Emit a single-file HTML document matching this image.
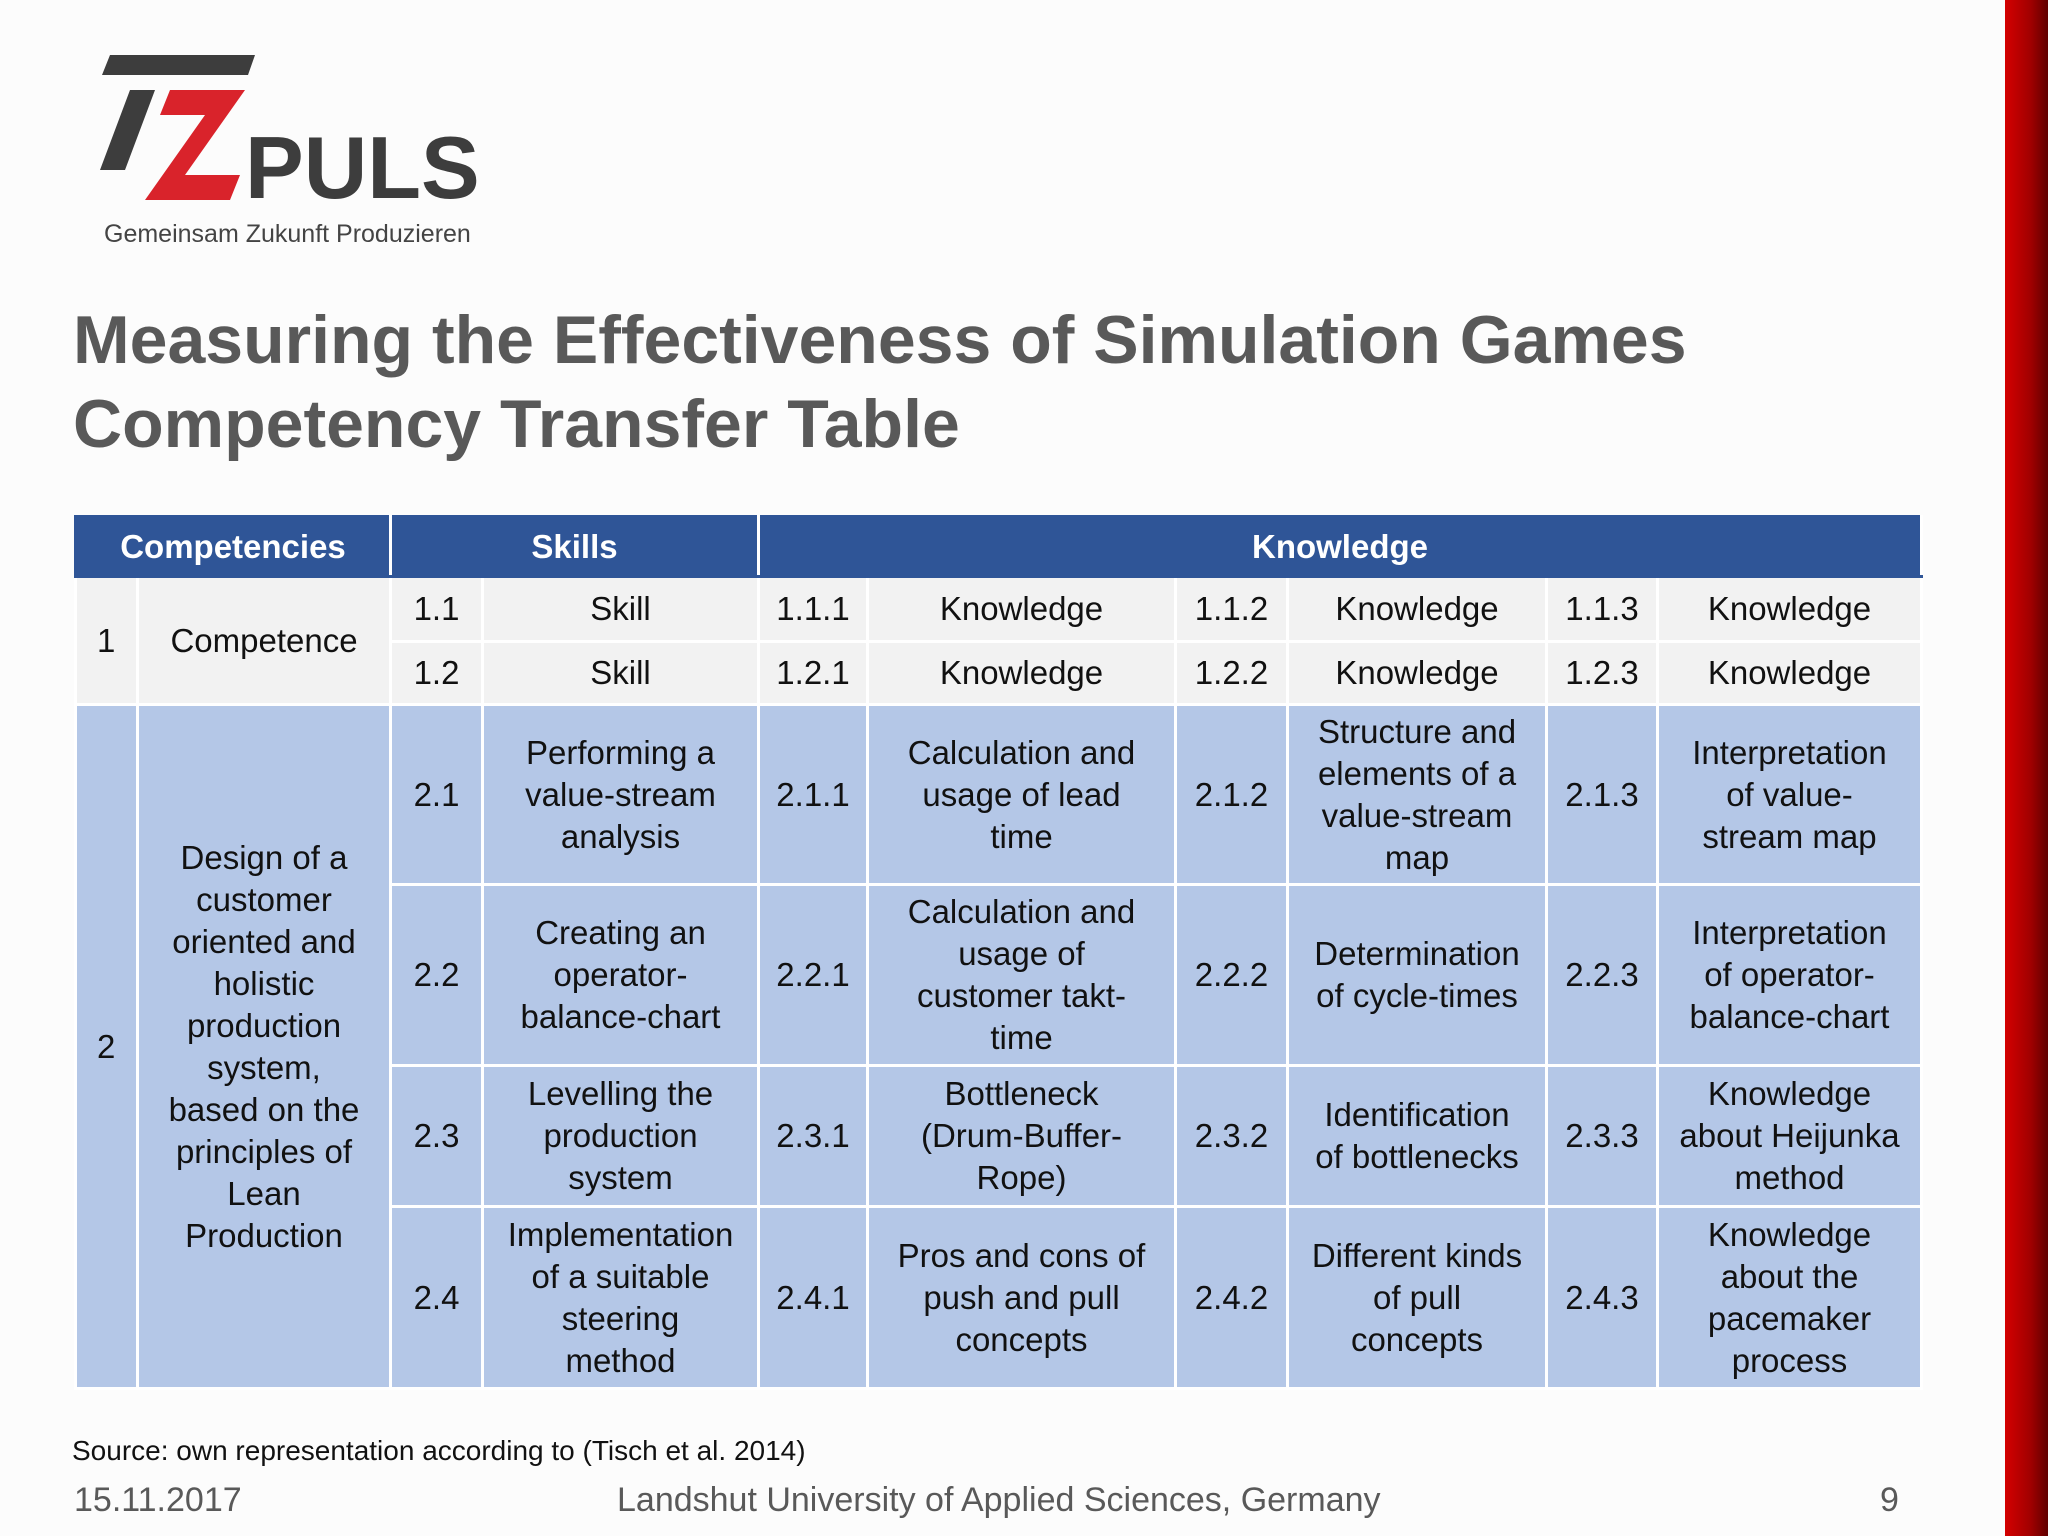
<!DOCTYPE html>
<html><head><meta charset="utf-8">
<style>
body{margin:0;width:2048px;height:1536px;background:#fcfcfc;position:relative;overflow:hidden;font-family:"Liberation Sans",Arial,sans-serif;}
.abs{position:absolute;white-space:nowrap;}
table{position:absolute;left:74px;top:515px;border-collapse:collapse;table-layout:fixed;}
td{border:3px solid #fff;text-align:center;vertical-align:middle;font-size:33px;color:#111;line-height:42px;padding:0 2px;white-space:nowrap;}
tr.h td{background:#2f5597;color:#fff;font-weight:bold;font-size:33px;border-color:#2f5597;border-right-color:#fff;}
tr.g td{background:#f2f2f2;}
tr.b td{background:#b4c7e7;}
</style></head><body>
<div class="abs" style="left:2005px;top:0;width:43px;height:1536px;background:linear-gradient(90deg,#d40000,#a00000 60%,#600000);"></div>
<svg class="abs" style="left:100px;top:55px" width="390" height="200">
<polygon points="10,0 155,0 148,20 2,20" fill="#3d3d3d"/>
<polygon points="30,35 55,35 25,115 0,115" fill="#3d3d3d"/>
<polygon points="70,35 145,35 85,120 140,120 130,145 45,145 105,60 60,60" fill="#d9232b"/>
<text x="145" y="143" font-family="Liberation Sans" font-weight="bold" font-size="88" fill="#3d3d3d">PULS</text>
<text x="4" y="187" font-family="Liberation Sans" font-size="25" fill="#444">Gemeinsam Zukunft Produzieren</text>
</svg>
<div class="abs" style="left:73px;top:298px;font-size:68px;font-weight:bold;color:#595959;line-height:84px;">Measuring the Effectiveness of Simulation Games<br>Competency Transfer Table</div>
<table>
<colgroup><col style="width:62px"><col style="width:253px"><col style="width:92px"><col style="width:276px"><col style="width:109px"><col style="width:308px"><col style="width:112px"><col style="width:259px"><col style="width:111px"><col style="width:264px"></colgroup>
<tr class="h" style="height:60px"><td colspan="2">Competencies</td><td colspan="2">Skills</td><td colspan="6">Knowledge</td></tr>
<tr class="g" style="height:65px"><td rowspan="2" style="text-align:left;padding-left:20px">1</td><td rowspan="2">Competence</td><td>1.1</td><td>Skill</td><td>1.1.1</td><td>Knowledge</td><td>1.1.2</td><td>Knowledge</td><td>1.1.3</td><td>Knowledge</td></tr>
<tr class="g" style="height:63px"><td>1.2</td><td>Skill</td><td>1.2.1</td><td>Knowledge</td><td>1.2.2</td><td>Knowledge</td><td>1.2.3</td><td>Knowledge</td></tr>
<tr class="b" style="height:180px"><td rowspan="4" style="text-align:left;padding-left:20px">2</td><td rowspan="4">Design of a<br>customer<br>oriented and<br>holistic<br>production<br>system,<br>based on the<br>principles of<br>Lean<br>Production</td><td>2.1</td><td>Performing a<br>value-stream<br>analysis</td><td>2.1.1</td><td>Calculation and<br>usage of lead<br>time</td><td>2.1.2</td><td>Structure and<br>elements of a<br>value-stream<br>map</td><td>2.1.3</td><td>Interpretation<br>of value-<br>stream map</td></tr>
<tr class="b" style="height:181px"><td>2.2</td><td>Creating an<br>operator-<br>balance-chart</td><td>2.2.1</td><td>Calculation and<br>usage of<br>customer takt-<br>time</td><td>2.2.2</td><td>Determination<br>of cycle-times</td><td>2.2.3</td><td>Interpretation<br>of operator-<br>balance-chart</td></tr>
<tr class="b" style="height:141px"><td>2.3</td><td>Levelling the<br>production<br>system</td><td>2.3.1</td><td>Bottleneck<br>(Drum-Buffer-<br>Rope)</td><td>2.3.2</td><td>Identification<br>of bottlenecks</td><td>2.3.3</td><td>Knowledge<br>about Heijunka<br>method</td></tr>
<tr class="b" style="height:182px"><td>2.4</td><td>Implementation<br>of a suitable<br>steering<br>method</td><td>2.4.1</td><td>Pros and cons of<br>push and pull<br>concepts</td><td>2.4.2</td><td>Different kinds<br>of pull<br>concepts</td><td>2.4.3</td><td>Knowledge<br>about the<br>pacemaker<br>process</td></tr>
</table>
<div class="abs" style="left:72px;top:1435px;font-size:28px;color:#111;">Source: own representation according to (Tisch et al. 2014)</div>
<div class="abs" style="left:74px;top:1481px;font-size:34px;color:#595959;">15.11.2017</div>
<div class="abs" style="left:617px;top:1481px;font-size:34px;color:#595959;">Landshut University of Applied Sciences, Germany</div>
<div class="abs" style="left:1880px;top:1481px;font-size:34px;color:#595959;">9</div>
</body></html>
